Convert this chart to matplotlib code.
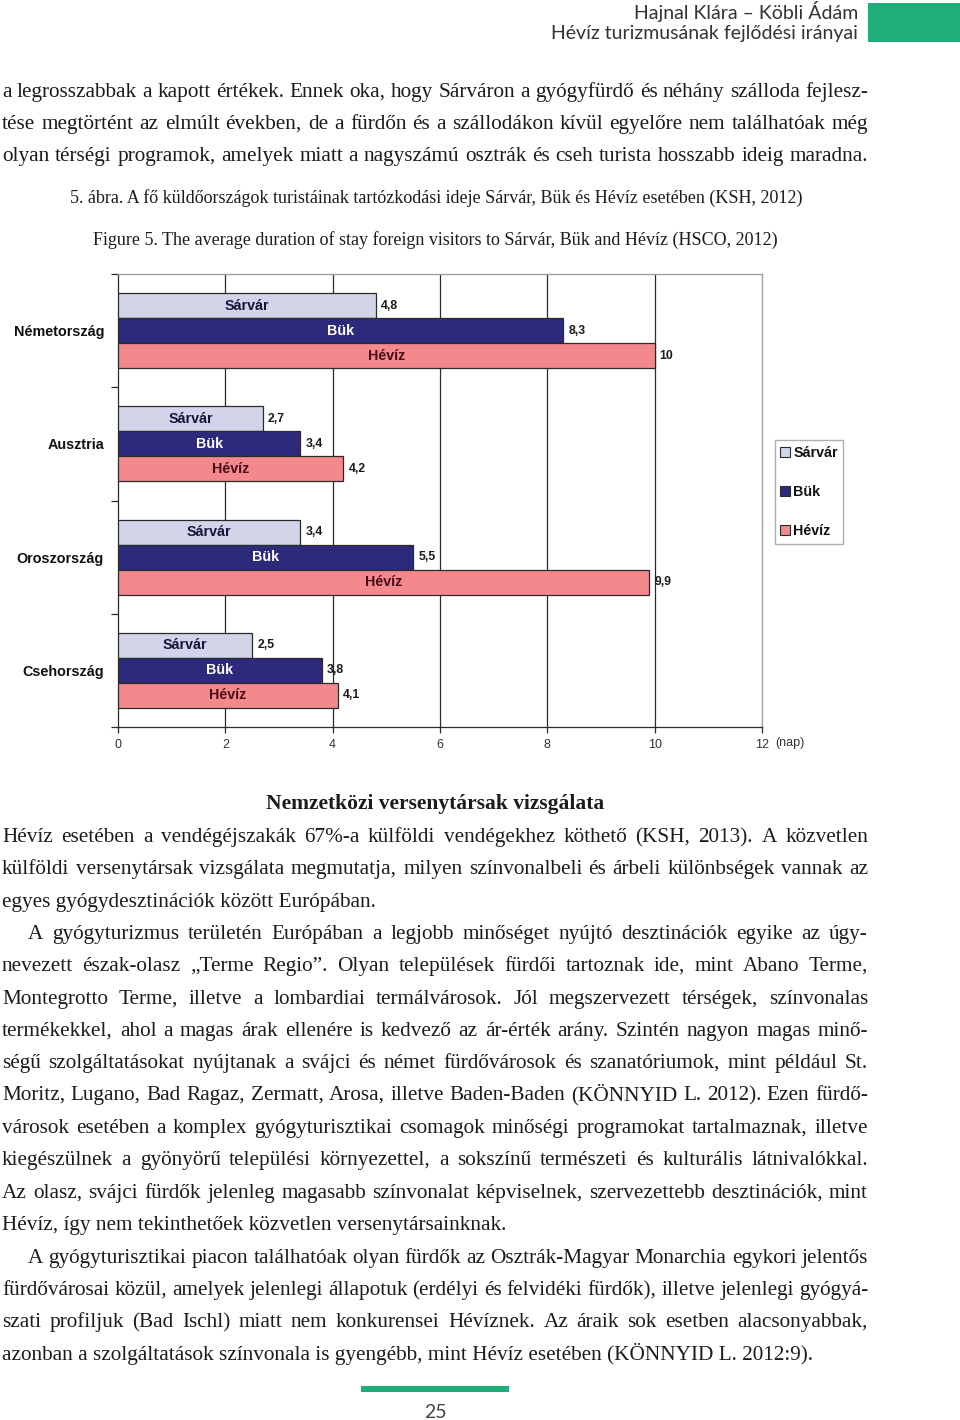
import matplotlib
matplotlib.use('Agg')
import matplotlib.pyplot as plt
from matplotlib.patches import Rectangle, Patch

W, H = 960, 1420

# ---------------- data ----------------
countries = ['Németország', 'Ausztria', 'Oroszország', 'Csehország']
series = ['Sárvár', 'Bük', 'Hévíz']
sarvar = [4.8, 2.7, 3.4, 2.5]
buk = [8.3, 3.4, 5.5, 3.8]
heviz = [10, 4.2, 9.9, 4.1]
xticks = [0, 2, 4, 6, 8, 10, 12]
unit_label = '(nap)'

header_lines = ['Hajnal Klára – Köbli Ádám', 'Hévíz turizmusának fejlődési irányai']
intro_lines = [
    'a legrosszabbak a kapott értékek. Ennek oka, hogy Sárváron a gyógyfürdő és néhány szálloda fejlesz-',
    'tése megtörtént az elmúlt években, de a fürdőn és a szállodákon kívül egyelőre nem találhatóak még',
    'olyan térségi programok, amelyek miatt a nagyszámú osztrák és cseh turista hosszabb ideig maradna.',
]
caption_hu = '5. ábra. A fő küldőországok turistáinak tartózkodási ideje Sárvár, Bük és Hévíz esetében (KSH, 2012)'
caption_en = 'Figure 5. The average duration of stay foreign visitors to Sárvár, Bük and Hévíz (HSCO, 2012)'
heading = 'Nemzetközi versenytársak vizsgálata'
para_lines = [
    'Hévíz esetében a vendégéjszakák 67%-a külföldi vendégekhez köthető (KSH, 2013). A közvetlen',
    'külföldi versenytársak vizsgálata megmutatja, milyen színvonalbeli és árbeli különbségek vannak az',
    'egyes gyógydesztinációk között Európában.',
    'A gyógyturizmus területén Európában a legjobb minőséget nyújtó desztinációk egyike az úgy-',
    'nevezett észak-olasz „Terme Regio”. Olyan települések fürdői tartoznak ide, mint Abano Terme,',
    'Montegrotto Terme, illetve a lombardiai termálvárosok. Jól megszervezett térségek, színvonalas',
    'termékekkel, ahol a magas árak ellenére is kedvező az ár-érték arány. Szintén nagyon magas minő-',
    'ségű szolgáltatásokat nyújtanak a svájci és német fürdővárosok és szanatóriumok, mint például St.',
    'Moritz, Lugano, Bad Ragaz, Zermatt, Arosa, illetve Baden-Baden (KÖNNYID L. 2012). Ezen fürdő-',
    'városok esetében a komplex gyógyturisztikai csomagok minőségi programokat tartalmaznak, illetve',
    'kiegészülnek a gyönyörű települési környezettel, a sokszínű természeti és kulturális látnivalókkal.',
    'Az olasz, svájci fürdők jelenleg magasabb színvonalat képviselnek, szervezettebb desztinációk, mint',
    'Hévíz, így nem tekinthetőek közvetlen versenytársainknak.',
    'A gyógyturisztikai piacon találhatóak olyan fürdők az Osztrák-Magyar Monarchia egykori jelentős',
    'fürdővárosai közül, amelyek jelenlegi állapotuk (erdélyi és felvidéki fürdők), illetve jelenlegi gyógyá-',
    'szati profiljuk (Bad Ischl) miatt nem konkurensei Hévíznek. Az áraik sok esetben alacsonyabbak,',
    'azonban a szolgáltatások színvonala is gyengébb, mint Hévíz esetében (KÖNNYID L. 2012:9).',
]
page_number = '25'

# ---------------- layout ----------------
para_y = [836, 868, 901, 933, 965, 998, 1030, 1062, 1094, 1127, 1159, 1192, 1224, 1257, 1289, 1321, 1354]
para_indent = [0, 0, 0, 1, 0, 0, 0, 0, 0, 0, 0, 0, 0, 1, 0, 0, 0]
para_justify = [1, 1, 0, 1, 1, 1, 1, 1, 1, 1, 1, 1, 0, 1, 1, 1, 0]
intro_y = [91, 123, 155]

colors = ['#d2d5ea', '#2d2a7c', '#f3898d']
text_colors = ['#15153a', '#ffffff', '#4a0c18']
edge = '#2a2a2a'

fig = plt.figure(figsize=(W / 100, H / 100), dpi=100)
fig.patch.set_facecolor('white')


def fx(px):
    return px / W


def fy(py):
    return 1 - py / H


serif = ['Liberation Serif', 'DejaVu Serif']
body_kw = dict(family=serif, fontsize=15.3, color='#1c1c1c')
renderer = fig.canvas.get_renderer()


def put_line(text, yc, x0, x1, justify, kw, base_off=6):
    yb = fy(yc + base_off)
    if not justify:
        fig.text(fx(x0), yb, text, va='baseline', ha='left', **kw)
        return
    words = text.split(' ')
    arts = [fig.text(0, yb, w, va='baseline', ha='left', **kw) for w in words]
    widths = [a.get_window_extent(renderer).width for a in arts]
    gap = (x1 - x0 - sum(widths)) / (len(words) - 1)
    x = x0
    for a, w in zip(arts, widths):
        a.set_x(fx(x))
        x += w + gap


# header
sans_head = ['Lato', 'DejaVu Sans']
fig.text(fx(858), fy(11), header_lines[0], ha='right', va='center', family=sans_head,
         fontsize=14, color='#333333')
fig.text(fx(858), fy(34), header_lines[1], ha='right', va='center', family=sans_head,
         fontsize=14, color='#333333')
fig.patches.append(Rectangle((fx(868), fy(42)), fx(92), 39 / H, transform=fig.transFigure,
                             facecolor='#1fae78', edgecolor='none'))

for t, y in zip(intro_lines, intro_y):
    put_line(t, y, 2, 868, True, body_kw)

cap_kw = dict(family=serif, fontsize=13, color='#1c1c1c')
fig.text(fx(70), fy(198 + 5), caption_hu, ha='left', va='baseline', **cap_kw)
fig.text(fx(93), fy(240 + 5), caption_en, ha='left', va='baseline', **cap_kw)

fig.text(fx(435), fy(803 + 6), heading, ha='center', va='baseline', family=serif,
         fontsize=15.5, fontweight='bold', color='#1c1c1c')

for t, y, ind, j in zip(para_lines, para_y, para_indent, para_justify):
    put_line(t, y, 2 + 26 * ind, 868, bool(j), body_kw)

# footer
fig.patches.append(Rectangle((fx(361), fy(1392)), fx(148), 6 / H, transform=fig.transFigure,
                             facecolor='#1fae78', edgecolor='none'))
fig.text(fx(435), fy(1412), page_number, ha='center', va='center', family=sans_head,
         fontsize=14, color='#444444')

# ---------------- chart ----------------
ax = fig.add_axes([fx(118), fy(727), 644 / W, 453 / H])
chart_sans = ['Liberation Sans', 'DejaVu Sans']
narrow = ['Liberation Sans Narrow', 'Liberation Sans', 'DejaVu Sans']

bh = 25 / 113
centers = [i + 0.5 for i in range(len(countries))]
all_vals = [sarvar, buk, heviz]
for k, (vals, c, tc, name) in enumerate(zip(all_vals, colors, text_colors, series)):
    ys = [cc + (k - 1) * bh for cc in centers]
    ax.barh(ys, vals, height=bh, color=c, edgecolor=edge, linewidth=0.9, zorder=3)
    for y, v in zip(ys, vals):
        ax.text(v / 2, y, name, ha='center', va='center', family=chart_sans, fontsize=10.3,
                fontweight='bold', color=tc, zorder=4)
        lab = ('%g' % v).replace('.', ',')
        ax.annotate(lab, (v, y), xytext=(5, 0), textcoords='offset pixels', ha='left',
                    va='center', family=chart_sans, fontsize=8.8, fontweight='bold',
                    color='#1a1a1a', zorder=4)

ax.set_xlim(xticks[0], xticks[-1])
ax.set_ylim(len(countries), 0)
for xt in xticks[1:-1]:
    ax.axvline(xt, color='#2a2a2a', lw=0.9, zorder=1)

ax.set_xticks(xticks)
ax.set_xticklabels([str(x) for x in xticks], family=narrow, fontsize=9, color='#333333')
ax.tick_params(axis='x', direction='out', length=4, width=0.9, color='#2a2a2a', pad=5)

ax.set_yticks(range(len(countries) + 1))
ax.set_yticklabels([''] * (len(countries) + 1))
ax.tick_params(axis='y', which='major', direction='out', length=5, width=0.9, color='#2a2a2a')
ax.set_yticks(centers, minor=True)
ax.set_yticklabels(countries, minor=True, family=chart_sans, fontsize=10.4,
                   fontweight='bold', color='#111111')
ax.tick_params(axis='y', which='minor', length=0, pad=10)

for s in ['left', 'bottom']:
    ax.spines[s].set_color('#2a2a2a')
    ax.spines[s].set_linewidth(0.9)
for s in ['top', 'right']:
    ax.spines[s].set_color('#a0a0a0')
    ax.spines[s].set_linewidth(1.0)

fig.text(fx(790), fy(743), unit_label, ha='center', va='center', family=narrow,
         fontsize=9, color='#333333')

handles = [Patch(facecolor=c, edgecolor=edge, linewidth=0.8) for c in colors]
leg = fig.legend(handles, series, loc='center', bbox_to_anchor=(fx(809), fy(492)),
                 frameon=True, fancybox=False, edgecolor='#9a9a9a', handlelength=0.65,
                 handleheight=0.65, handletextpad=0.25, labelspacing=1.75, borderpad=0.4,
                 borderaxespad=0, prop=dict(family=chart_sans, size=10.3, weight='bold'))
leg.get_frame().set_linewidth(1.0)
for t in leg.get_texts():
    t.set_color('#111111')

fig.savefig('out.png', dpi=100)
